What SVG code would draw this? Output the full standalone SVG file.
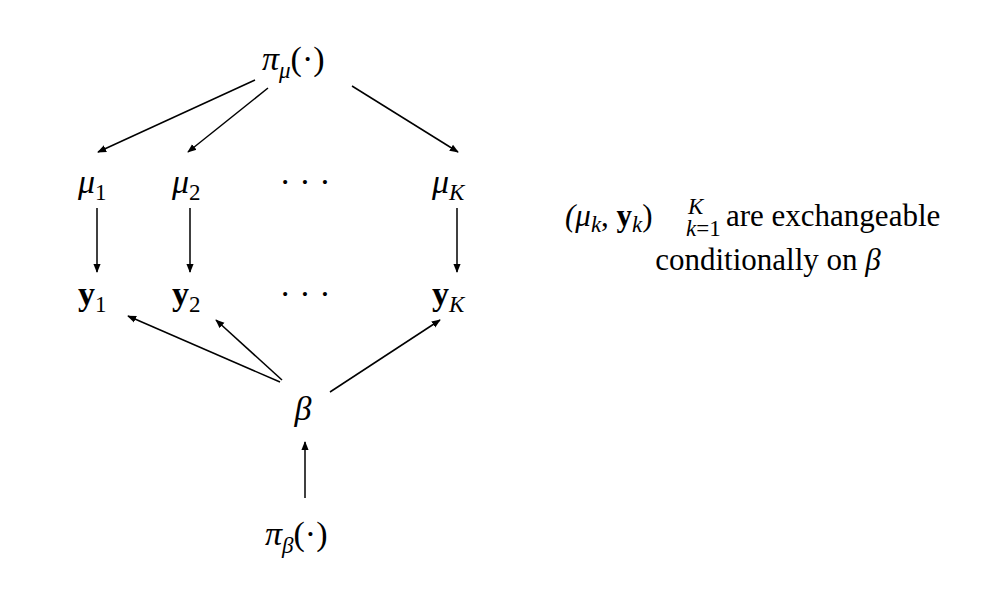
<svg xmlns="http://www.w3.org/2000/svg" width="1000" height="597" viewBox="0 0 1000 597">
<style>
text{font-family:"Liberation Serif","DejaVu Serif",serif;fill:#000}
.m{font-size:34px}
.i{font-style:italic}
.b{font-weight:bold}
.s{font-size:23px}
.t{font-size:31px}
line{stroke:#000;stroke-width:1.5}
</style>
<defs><marker id="a" viewBox="0 0 10 10" refX="9" refY="5" markerWidth="9" markerHeight="9" markerUnits="userSpaceOnUse" orient="auto"><path d="M0,1 L10,5 L0,9 Z" fill="#000"/></marker></defs>
<rect width="1000" height="597" fill="#fff"/>
<g id="pimu"><text class="m" x="262" y="70"><tspan class="i">π</tspan><tspan class="i s" dy="8">μ</tspan><tspan dy="-8">(·)</tspan></text></g>
<g id="mu1"><text class="m" x="78" y="193"><tspan class="i">μ</tspan><tspan class="s" dy="7">1</tspan></text></g>
<g id="mu2"><text class="m" x="172" y="193"><tspan class="i">μ</tspan><tspan class="s" dy="7">2</tspan></text></g>
<g id="mudots"><text class="m" x="305" y="193" text-anchor="middle">· · ·</text></g>
<g id="muK"><text class="m" x="432" y="193"><tspan class="i">μ</tspan><tspan class="i s" dy="7">K</tspan></text></g>
<g id="y1"><text class="m" x="78" y="305"><tspan class="b">y</tspan><tspan class="s" dy="7">1</tspan></text></g>
<g id="y2"><text class="m" x="172" y="305"><tspan class="b">y</tspan><tspan class="s" dy="7">2</tspan></text></g>
<g id="ydots"><text class="m" x="305" y="305" text-anchor="middle">· · ·</text></g>
<g id="yK"><text class="m" x="432" y="305"><tspan class="b">y</tspan><tspan class="i s" dy="7">K</tspan></text></g>
<g id="beta"><text class="m i" x="303" y="420" text-anchor="middle">β</text></g>
<g id="pibeta"><text class="m" x="265" y="545"><tspan class="i">π</tspan><tspan class="i s" dy="8">β</tspan><tspan dy="-8">(·)</tspan></text></g>
<g id="note">
<text class="t" x="565" y="226"><tspan class="i">(μ</tspan><tspan class="i s" dy="6">k</tspan><tspan dy="-6">, </tspan><tspan class="b">y</tspan><tspan class="i s" dy="6">k</tspan><tspan dy="-6">)</tspan></text>
<text class="s i" x="688" y="214">K</text>
<text class="s" x="686" y="236"><tspan class="i">k</tspan>=1</text>
<text class="t" x="726" y="226">are exchangeable</text>
<text class="t" x="768" y="270" text-anchor="middle">conditionally on <tspan class="i">β</tspan></text>
</g>
<g id="connectors">
<line x1="255" y1="80" x2="98" y2="152" marker-end="url(#a)"/>
<line x1="268" y1="88" x2="188" y2="152" marker-end="url(#a)"/>
<line x1="352" y1="86" x2="458" y2="152" marker-end="url(#a)"/>
<line x1="97" y1="208" x2="97" y2="272" marker-end="url(#a)"/>
<line x1="190" y1="208" x2="190" y2="272" marker-end="url(#a)"/>
<line x1="457" y1="208" x2="457" y2="272" marker-end="url(#a)"/>
<line x1="280" y1="382" x2="128" y2="316" marker-end="url(#a)"/>
<line x1="282" y1="380" x2="216" y2="320" marker-end="url(#a)"/>
<line x1="330" y1="392" x2="440" y2="320" marker-end="url(#a)"/>
<line x1="305" y1="498" x2="305" y2="442" marker-end="url(#a)"/>
</g>
</svg>
